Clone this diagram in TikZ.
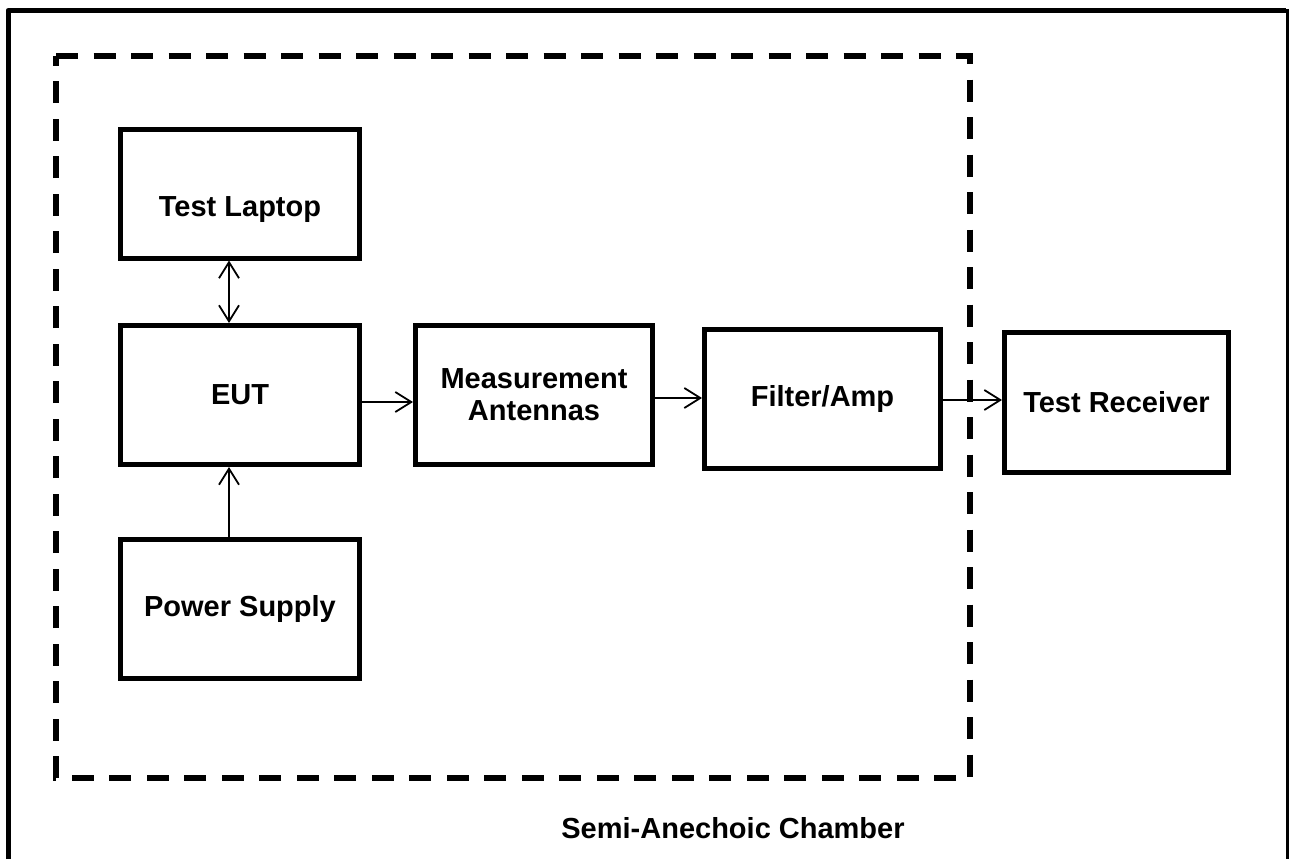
\documentclass[tikz,border=0pt]{standalone}
\usepackage{fontspec}
\setmainfont{Liberation Sans}
\usetikzlibrary{arrows.meta,calc,positioning}
\tikzset{box/.style={draw,line width=5pt,align=center,inner sep=3pt,
    font=\fontsize{29}{33}\selectfont\bfseries},
  arr/.style={-{Straight Barb[length=16pt,width=20pt]},line width=1.8pt},
  chamber/.style={line width=6pt,dash pattern=on 22pt off 15.5pt}}

\begin{document}
\begin{tikzpicture}[x=1pt,y=-1pt]
\useasboundingbox (0,0) rectangle (1289,859);
% outer frame (open at the bottom)
\draw[line width=5pt,line join=round] (8,859) -- (8,10.5) -- (1286,10.5);
\draw[line width=3pt] (1287,9) -- (1287,859);
% chamber
\draw[chamber] (56,56) -- (970,56) -- (970,778) -- (56,778) -- cycle;
\node[font=\fontsize{29}{33}\selectfont\bfseries,anchor=base] (lab) at (733,838) {Semi-Anechoic Chamber};
% blocks
\node[box,minimum width=239pt,minimum height=129pt] (laptop) at (240,193.5) {\raisebox{-23pt}[0pt][0pt]{Test Laptop}};
\node[box,minimum width=239pt,minimum height=139pt] (eut) at (240,395) {EUT};
\node[box,minimum width=239pt,minimum height=139pt] (power) at (240,609) {Power Supply};
\node[box,minimum width=237pt,minimum height=139pt] (ant) at (534,395) {Measurement\\[-1pt]Antennas};
\node[box,minimum width=236pt,minimum height=139pt] (filt) at (822.5,399) {Filter/Amp};
\node[box,minimum width=224pt,minimum height=140pt] (rec) at (1116.5,402.5) {Test Receiver};
% links
\draw[arr,{Straight Barb[length=16pt,width=20pt]}-{Straight Barb[length=16pt,width=20pt]}]
  ([xshift=-11pt]laptop.south) -- ([xshift=-11pt]laptop.south |- eut.north);
\draw[arr] ([xshift=-11pt]power.north) -- ([xshift=-11pt]power.north |- eut.south);
\draw[arr] ([yshift=-7pt]eut.east) -- ([yshift=-7pt]eut.east -| ant.west);
\draw[arr] ([yshift=-3pt]ant.east) -- ([yshift=-3pt]ant.east -| filt.west);
\draw[arr] ([yshift=-1pt]filt.east) -- ([yshift=-1pt]filt.east -| rec.west);
\end{tikzpicture}
\end{document}
